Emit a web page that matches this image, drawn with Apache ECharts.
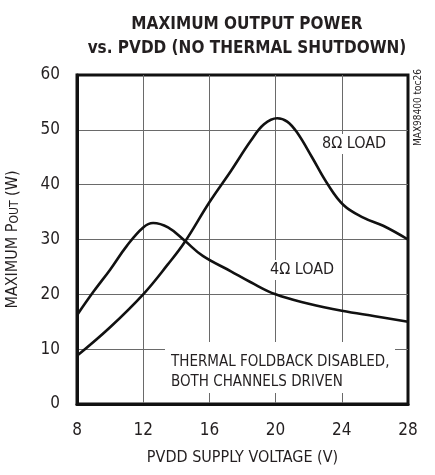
<!DOCTYPE html>
<html>
<head>
  <meta charset="utf-8">
  <title>Maximum Output Power vs PVDD</title>
  <script src="https://cdn.jsdelivr.net/npm/echarts@6.0.0/dist/echarts.min.js"></script>
  <style>
    html, body { margin: 0; padding: 0; background: #fff; }
  </style>
</head>
<body>
  <div id="chart" style="width: 435px; height: 475px;"></div>

  <script>
    // supply voltage (V) vs. max output power (W)
    const load4Volts = [8, 9, 10, 11, 12, 12.6, 13.5, 14.5, 15.6, 17.3, 18.5, 20, 22, 24, 26, 28];
    const load4Watts = [16.2, 20.5, 24.5, 28.8, 32.2, 33.0, 32.2, 29.8, 27.0, 24.2, 22.2, 20.0, 18.3, 17.0, 16.0, 15.0];

    const load8Volts = [8, 10, 12, 13.5, 14.5, 16, 17.3, 18.5, 19.3, 20.1, 20.7, 21.3, 22.2, 23.1, 24.1, 25.3, 26.5, 28];
    const load8Watts = [8.8, 14.0, 20.0, 25.5, 29.5, 36.8, 42.5, 48.0, 51.0, 52.1, 51.5, 49.5, 45.0, 40.3, 36.3, 34.0, 32.5, 30.0];

    const xTicks = [8, 12, 16, 20, 24, 28];
    const yTicks = [0, 10, 20, 30, 40, 50, 60];

    const toPairs = (xs, ys) => xs.map((x, i) => [x, ys[i]]);

    const FONT = "'DejaVu Sans Condensed', 'Liberation Sans Narrow', sans-serif";
    const TXT = '#231f20';

    const chart = echarts.init(document.getElementById('chart'));

    chart.setOption({
      animation: false,
      backgroundColor: '#fff',
      title: {
        text: 'MAXIMUM OUTPUT POWER\nvs. PVDD (NO THERMAL SHUTDOWN)',
        left: 242,
        top: 8,
        textAlign: 'center',
        textStyle: {
          fontFamily: FONT,
          fontWeight: 'bold',
          fontSize: 17,
          lineHeight: 24,
          color: TXT
        }
      },
      grid: {
        left: 77,
        right: 27,
        top: 75,
        bottom: 71,
        containLabel: false,
        outerBoundsMode: 'none',
        show: true,
        borderColor: '#111',
        borderWidth: 3,
        backgroundColor: 'transparent'
      },
      xAxis: {
        type: 'value',
        min: xTicks[0],
        max: xTicks[xTicks.length - 1],
        interval: 4,
        name: 'PVDD SUPPLY VOLTAGE (V)',
        nameLocation: 'middle',
        nameGap: 46,
        nameTextStyle: { fontFamily: FONT, fontSize: 16, color: TXT },
        axisLine: { show: true, lineStyle: { color: '#111', width: 3 } },
        axisTick: { show: false },
        axisLabel: { fontFamily: FONT, fontSize: 17, color: TXT, margin: 18 },
        splitLine: {
          show: true,
          showMinLine: false,
          showMaxLine: false,
          lineStyle: { color: '#6a6a6a', width: 1 }
        }
      },
      yAxis: {
        type: 'value',
        min: yTicks[0],
        max: yTicks[yTicks.length - 1],
        interval: 10,
        name: '{a|MAXIMUM P}{s|OUT}{a| (W)}',
        nameLocation: 'middle',
        nameGap: 56,
        nameTextStyle: {
          rich: {
            a: { fontFamily: FONT, fontSize: 16, color: TXT },
            s: { fontFamily: FONT, fontSize: 12, color: TXT, padding: [3, 0, 0, 0] }
          }
        },
        axisLine: { show: true, lineStyle: { color: '#111', width: 3 } },
        axisTick: { show: false },
        axisLabel: { fontFamily: FONT, fontSize: 17, color: TXT, margin: 17 },
        splitLine: {
          show: true,
          showMinLine: false,
          showMaxLine: false,
          lineStyle: { color: '#6a6a6a', width: 1 }
        }
      },
      graphic: [
        // white patches where the reference breaks the grid behind its labels
        { type: 'rect', z: 1, shape: { x: 165, y: 342, width: 230, height: 51 }, style: { fill: '#fff' } },
        {
          type: 'text', z: 5, left: 171, top: 352,
          style: {
            text: 'THERMAL FOLDBACK DISABLED,\nBOTH CHANNELS DRIVEN',
            font: '15px ' + FONT, fill: TXT, lineHeight: 20
          }
        },
        {
          type: 'text', z: 5, left: 320, top: 134,
          style: { text: '8Ω LOAD', font: '16px ' + FONT, fill: TXT, backgroundColor: '#fff', padding: [2, 2] }
        },
        {
          type: 'text', z: 5, left: 268, top: 260,
          style: { text: '4Ω LOAD', font: '16px ' + FONT, fill: TXT, backgroundColor: '#fff', padding: [2, 2] }
        },
        {
          type: 'text', z: 5, x: 413, y: 146, rotation: Math.PI / 2,
          style: { text: 'MAX98400 toc26', font: '10px ' + FONT, fill: TXT }
        }
      ],
      series: [
        {
          name: '4 ohm',
          type: 'line',
          smooth: 0.4,
          symbol: 'none',
          z: 3,
          lineStyle: { color: '#111', width: 2.6 },
          data: toPairs(load4Volts, load4Watts)
        },
        {
          name: '8 ohm',
          type: 'line',
          smooth: 0.4,
          symbol: 'none',
          z: 3,
          lineStyle: { color: '#111', width: 2.6 },
          data: toPairs(load8Volts, load8Watts)
        }
      ]
    });
  </script>
</body>
</html>
